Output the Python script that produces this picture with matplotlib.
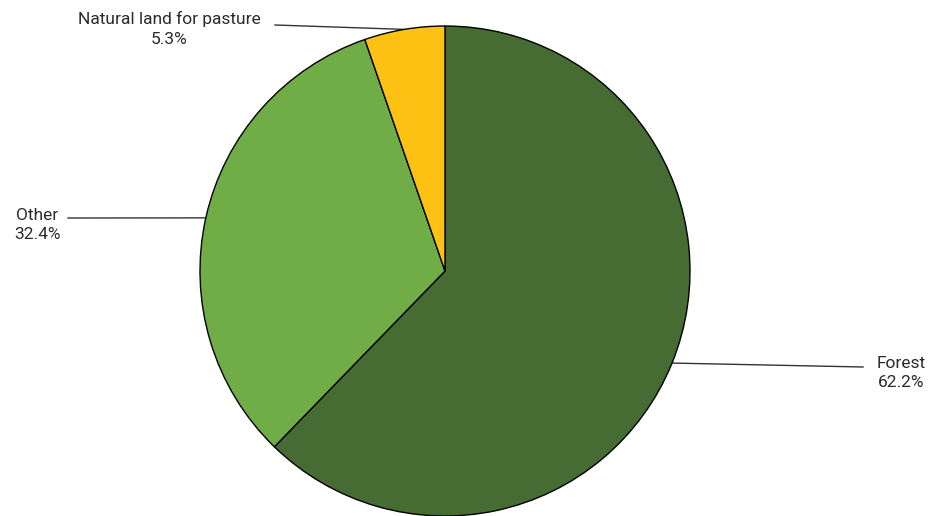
import numpy as np
import matplotlib
matplotlib.use("Agg")
import matplotlib.pyplot as plt

# land use shares (percent), clockwise from 12 o'clock
labels = ["Forest", "Other", "Natural land for pasture"]
shares = [62.2, 32.4, 5.3]
colors = ["#466b33", "#70ad47", "#fdc113"]

plt.rcParams["font.family"] = ["Roboto", "DejaVu Sans"]

fig = plt.figure(figsize=(9.3, 5.16), dpi=100)
ax = fig.add_axes([0, 0, 1, 1])

cx, cy, r = 445, 245, 245
wedges, _ = ax.pie(shares, colors=colors, startangle=90, counterclock=False,
                   center=(cx, cy), radius=r, frame=True,
                   wedgeprops=dict(edgecolor="black", linewidth=1.0))
ax.set_xlim(0, 930)
ax.set_ylim(0, 516)
ax.set_aspect("equal")
ax.axis("off")

# leader line end points and label positions (pixels, y up)
line_ends = [(863, 149), (68, 298), (275, 491)]
label_pos = [(901, 143), (37, 291), (169, 487)]

for w, lab, val, (lx, ly), (tx, ty) in zip(wedges, labels, shares, line_ends, label_pos):
    ang = np.deg2rad((w.theta1 + w.theta2) / 2)
    px, py = cx + r * np.cos(ang), cy + r * np.sin(ang)
    ax.plot([px, lx], [py, ly], color="#333333", lw=1.0, zorder=0)
    ax.text(tx, ty, f"{lab}\n{val}%", ha="center", va="center",
            fontsize=12.5, color="#2b2b2b", linespacing=1.4)

fig.savefig("out.png", dpi=100)
